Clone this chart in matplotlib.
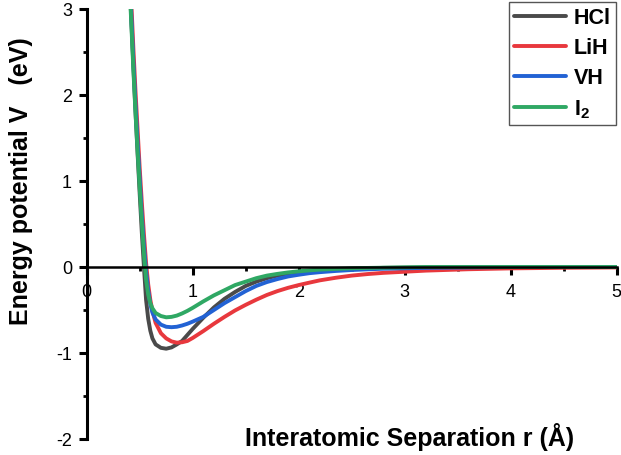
import matplotlib
matplotlib.use('Agg')
import matplotlib.pyplot as plt
from matplotlib.ticker import MultipleLocator

plt.rcParams['font.family'] = ['Liberation Sans', 'DejaVu Sans']
plt.rcParams['mathtext.fontset'] = 'custom'
plt.rcParams['mathtext.rm'] = 'Liberation Sans'
plt.rcParams['mathtext.bf'] = 'Liberation Sans:bold'
plt.rcParams['axes.unicode_minus'] = False

# interatomic separation r (Angstrom)
r = [0.40, 0.42, 0.44, 0.46, 0.48, 0.50, 0.52, 0.54, 0.56, 0.58,
     0.60, 0.62, 0.65, 0.70, 0.75, 0.80, 0.85, 0.90, 0.95, 1.00,
     1.10, 1.20, 1.30, 1.40, 1.50, 1.60, 1.70, 1.80, 1.90, 2.00,
     2.10, 2.20, 2.35, 2.50, 2.65, 2.80, 3.20, 3.60, 4.00, 4.50, 5.00]

# potential energy V (eV) per molecule
v_hcl = [3.45, 2.90, 2.35, 1.82, 1.32, 0.85, 0.40, 0.00, -0.38, -0.60,
         -0.74, -0.83, -0.90, -0.94, -0.95, -0.935, -0.90, -0.86, -0.79, -0.72,
         -0.59, -0.47, -0.37, -0.29, -0.22, -0.17, -0.13, -0.10, -0.075, -0.06,
         -0.045, -0.035, -0.027, -0.02, -0.015, -0.01, -0.005, 0.0, 0.0, 0.0, 0.0]
v_lih = [3.70, 3.10, 2.55, 2.05, 1.60, 1.15, 0.75, 0.38, 0.05, -0.20,
         -0.38, -0.51, -0.65, -0.77, -0.83, -0.865, -0.88, -0.875, -0.86, -0.825,
         -0.745, -0.66, -0.58, -0.505, -0.44, -0.38, -0.325, -0.28, -0.242, -0.21,
         -0.182, -0.155, -0.125, -0.10, -0.082, -0.068, -0.042, -0.026, -0.016, -0.009, -0.005]
v_vh = [3.55, 2.95, 2.40, 1.90, 1.45, 1.02, 0.60, 0.25, -0.05, -0.27,
        -0.43, -0.53, -0.61, -0.67, -0.695, -0.70, -0.695, -0.68, -0.66, -0.635,
        -0.58, -0.50, -0.42, -0.35, -0.28, -0.22, -0.175, -0.14, -0.11, -0.09,
        -0.072, -0.06, -0.046, -0.035, -0.027, -0.02, -0.01, -0.005, 0.0, 0.0, 0.0]
v_i2 = [3.40, 2.85, 2.30, 1.80, 1.35, 0.92, 0.52, 0.15, -0.15, -0.32,
        -0.42, -0.48, -0.535, -0.57, -0.585, -0.58, -0.565, -0.54, -0.51, -0.475,
        -0.40, -0.33, -0.27, -0.21, -0.17, -0.13, -0.10, -0.08, -0.063, -0.05,
        -0.039, -0.03, -0.022, -0.015, -0.011, -0.008, 0.0, 0.0, 0.0, 0.0, 0.0]

labels = ['HCl', 'LiH', 'VH', r'I$_\mathbf{2}$']
colors = ['#4a4a4a', '#e8383d', '#2262d4', '#2fa864']

fig = plt.figure(figsize=(6.21, 4.56), dpi=100)
ax = fig.add_axes([86.7 / 621, 16 / 456, 530 / 621, 430 / 456])

for v, lab, c in zip([v_hcl, v_lih, v_vh, v_i2], labels, colors):
    ax.plot(r, v, color=c, lw=2.8, label=lab, solid_capstyle='round',
            solid_joinstyle='round')

ax.set_xlim(0, 5)
ax.set_ylim(-2, 3)

# origin style axes: left spine at x=0, bottom spine through y=0
ax.spines['top'].set_visible(False)
ax.spines['right'].set_visible(False)
ax.spines['bottom'].set_position(('data', 0))
ax.spines['left'].set_linewidth(2.2)
ax.spines['bottom'].set_linewidth(1.8)

ax.xaxis.set_major_locator(MultipleLocator(1))
ax.xaxis.set_minor_locator(MultipleLocator(0.5))
ax.yaxis.set_major_locator(MultipleLocator(1))
ax.yaxis.set_minor_locator(MultipleLocator(0.5))
ax.tick_params(axis='both', which='major', direction='out', length=5.5, width=2.2,
               labelsize=13)
ax.tick_params(axis='y', which='major', pad=5)
ax.tick_params(axis='x', which='major', pad=6)
ax.tick_params(axis='both', which='minor', direction='out', length=3, width=2.0)

fig.text(21 / 621, 1 - 181 / 456, 'Energy potential V   (eV)', rotation=90,
         ha='center', va='center', fontsize=18, fontweight='bold')
fig.text(410 / 621, 1 - 437 / 456, 'Interatomic Separation r (Å)',
         ha='center', va='center', fontsize=18, fontweight='bold')

leg = ax.legend(loc='upper right', bbox_to_anchor=(616 / 621, 1 - 3 / 456),
                bbox_transform=fig.transFigure, borderaxespad=0,
                prop={'weight': 'bold', 'size': 15.5}, handlelength=2.4,
                handletextpad=0.35, labelspacing=0.42, borderpad=0.25,
                fancybox=False, framealpha=1)
leg.get_frame().set_edgecolor('#555555')
leg.get_frame().set_linewidth(1.0)
for line in leg.get_lines():
    line.set_linewidth(2.8)

fig.savefig('out.png', dpi=100)
